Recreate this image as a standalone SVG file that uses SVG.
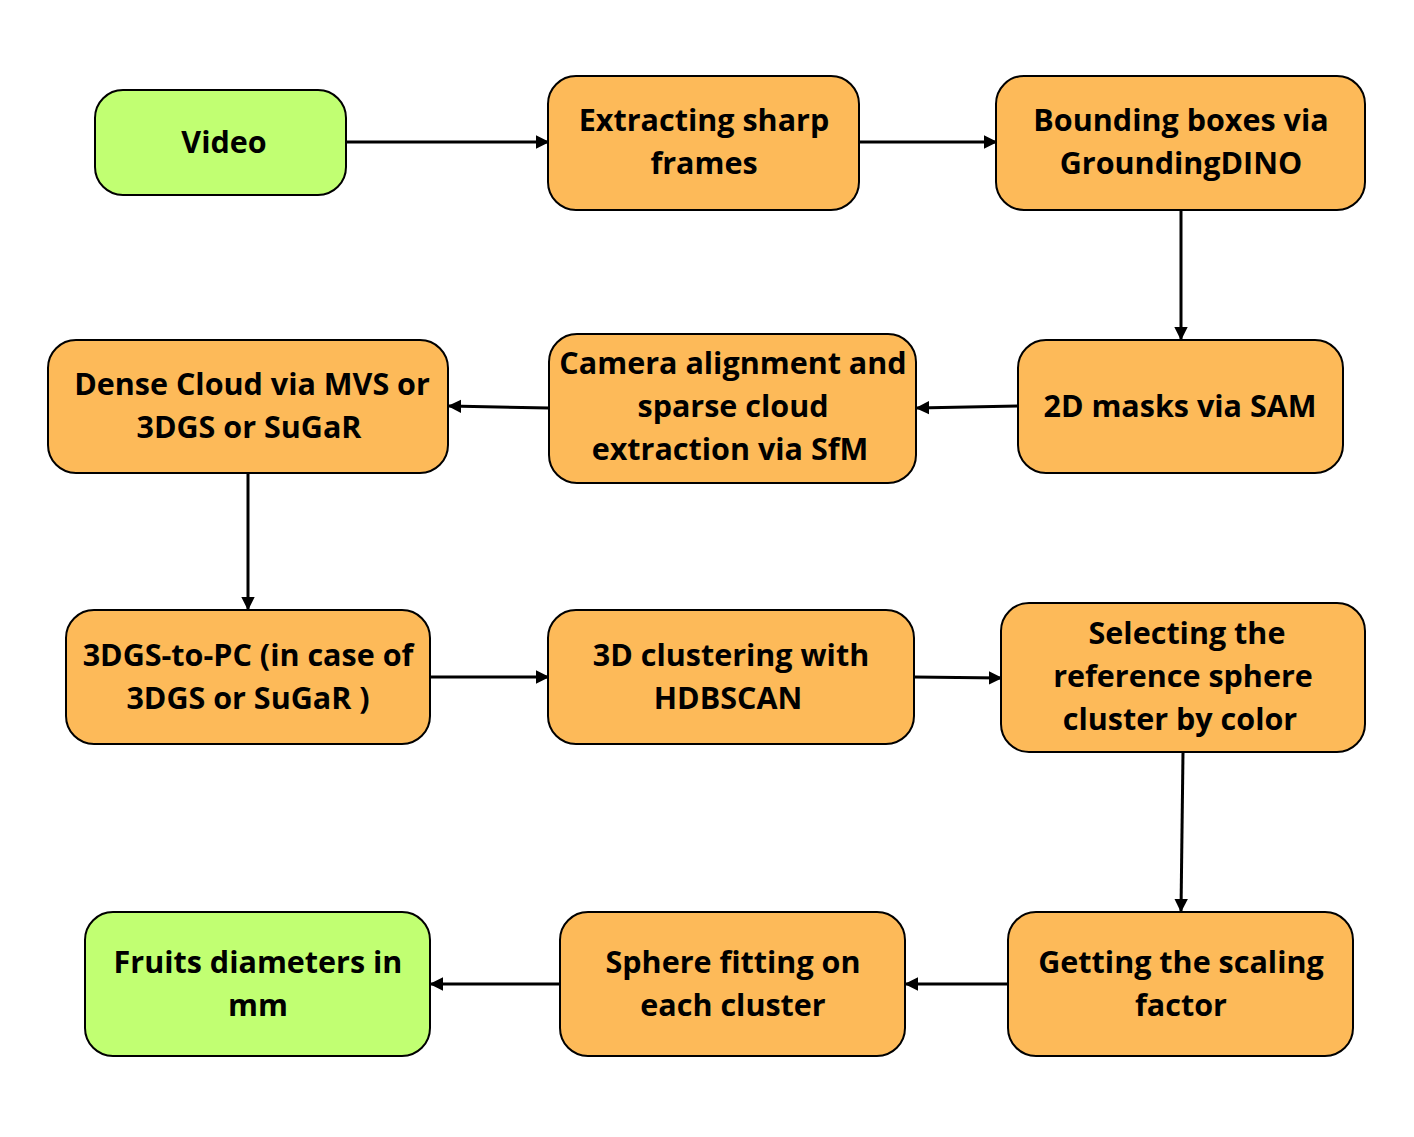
<svg xmlns="http://www.w3.org/2000/svg" width="1414" height="1137" viewBox="0 0 1414 1137">
<defs>
<marker id="ah" viewBox="0 0 10 10" refX="9" refY="5" markerWidth="4.5" markerHeight="4.5" orient="auto" markerUnits="strokeWidth">
<path d="M0,0 L10,5 L0,10 z" fill="#000"/>
</marker>
<style>
.o{fill:#FDBA59;stroke:#000;stroke-width:2}
.g{fill:#C1FF72;stroke:#000;stroke-width:2}
.t{font-family:"Open Sans","Liberation Sans",sans-serif;font-weight:700;font-size:30.5px;fill:#000;text-anchor:middle}
.c{stroke:#000;stroke-width:3;fill:none;marker-end:url(#ah)}
</style>
</defs>
<rect width="1414" height="1137" fill="#fff"/>
<g id="connectors">
<line class="c" x1="346" y1="142" x2="548" y2="142"/>
<line class="c" x1="859" y1="142" x2="996" y2="142"/>
<line class="c" x1="1181" y1="210" x2="1181" y2="339"/>
<line class="c" x1="1018" y1="406" x2="917" y2="408"/>
<line class="c" x1="549" y1="408" x2="449" y2="406"/>
<line class="c" x1="248" y1="473" x2="248" y2="609"/>
<line class="c" x1="430" y1="677" x2="548" y2="677"/>
<line class="c" x1="914" y1="677" x2="1001" y2="678"/>
<line class="c" x1="1183" y1="752" x2="1181" y2="911"/>
<line class="c" x1="1008" y1="984" x2="906" y2="984"/>
<line class="c" x1="560" y1="984" x2="431" y2="984"/>
</g>
<g id="n1"><rect class="g" x="95" y="90" width="251" height="105" rx="28"/><text class="t" x="224" y="153">Video</text></g>
<g id="n2"><rect class="o" x="548" y="76" width="311" height="134" rx="28"/><text class="t" x="704" y="131">Extracting sharp</text><text class="t" x="704" y="174">frames</text></g>
<g id="n3"><rect class="o" x="996" y="76" width="369" height="134" rx="28"/><text class="t" x="1181" y="131">Bounding boxes via</text><text class="t" x="1181" y="174">GroundingDINO</text></g>
<g id="n4"><rect class="o" x="1018" y="340" width="325" height="133" rx="28"/><text class="t" x="1180" y="417">2D masks via SAM</text></g>
<g id="n5"><rect class="o" x="549" y="334" width="367" height="149" rx="28"/><text class="t" x="733" y="374">Camera alignment and</text><text class="t" x="733" y="417">sparse cloud</text><text class="t" x="730" y="460">extraction via SfM</text></g>
<g id="n6"><rect class="o" x="48" y="340" width="400" height="133" rx="28"/><text class="t" x="252" y="395">Dense Cloud via MVS or</text><text class="t" x="249" y="438">3DGS or SuGaR</text></g>
<g id="n7"><rect class="o" x="66" y="610" width="364" height="134" rx="28"/><text class="t" x="248" y="666">3DGS-to-PC (in case of</text><text class="t" x="248" y="709">3DGS or SuGaR )</text></g>
<g id="n8"><rect class="o" x="548" y="610" width="366" height="134" rx="28"/><text class="t" x="731" y="666">3D clustering with</text><text class="t" x="728" y="709">HDBSCAN</text></g>
<g id="n9"><rect class="o" x="1001" y="603" width="364" height="149" rx="28"/><text class="t" x="1187" y="644">Selecting the</text><text class="t" x="1183" y="687">reference sphere</text><text class="t" x="1180" y="730">cluster by color</text></g>
<g id="n10"><rect class="o" x="1008" y="912" width="345" height="144" rx="28"/><text class="t" x="1181" y="973">Getting the scaling</text><text class="t" x="1181" y="1016">factor</text></g>
<g id="n11"><rect class="o" x="560" y="912" width="345" height="144" rx="28"/><text class="t" x="733" y="973">Sphere fitting on</text><text class="t" x="733" y="1016">each cluster</text></g>
<g id="n12"><rect class="g" x="85" y="912" width="345" height="144" rx="28"/><text class="t" x="258" y="973">Fruits diameters in</text><text class="t" x="258" y="1016">mm</text></g>
</svg>
